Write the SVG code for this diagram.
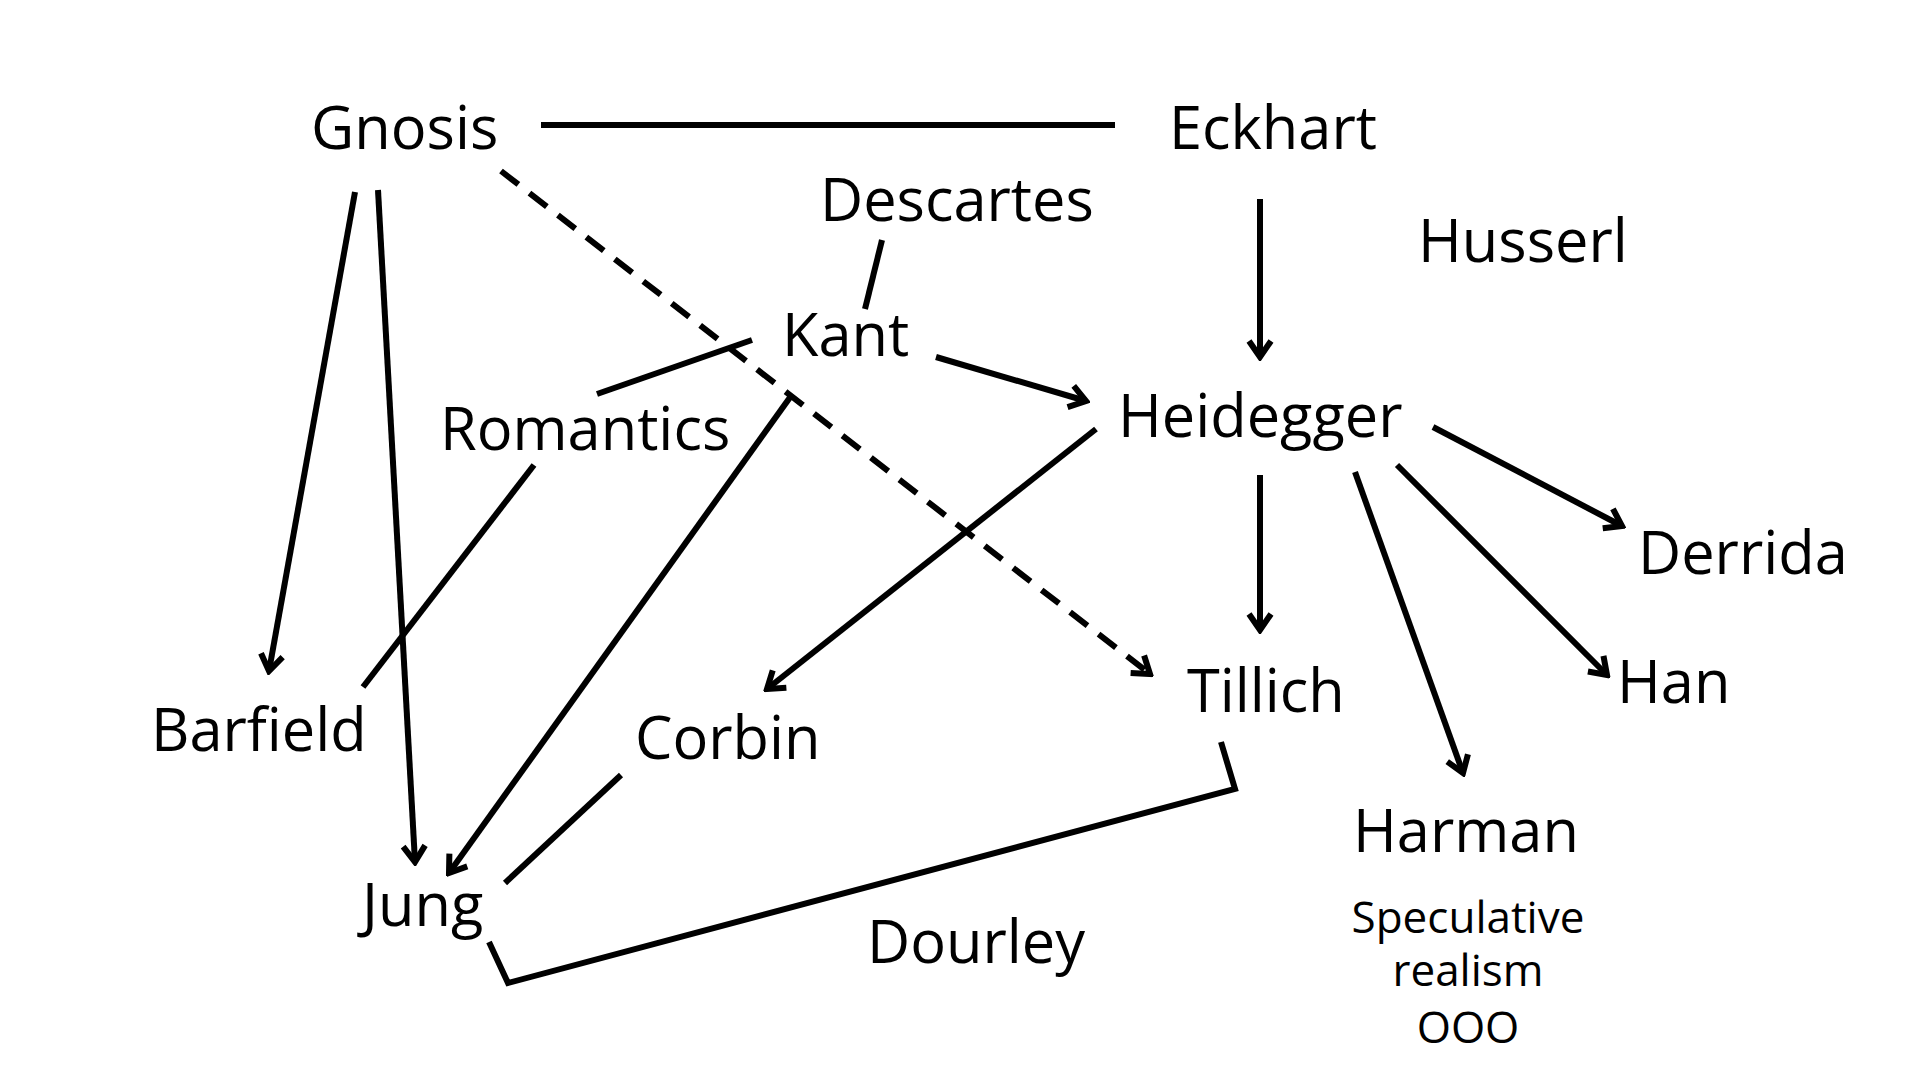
<svg xmlns="http://www.w3.org/2000/svg" width="1920" height="1080" viewBox="0 0 1920 1080">
<style>
text{font-family:"Open Sans","Noto Sans",sans-serif;fill:#000;font-size:59.5px}
.s{font-size:44px;text-anchor:middle}
line,polyline{stroke:#000;stroke-width:6;fill:none}
.a{marker-end:url(#ar)}
.d{stroke-dasharray:22 14}
</style>
<defs><marker id="ar" markerUnits="userSpaceOnUse" viewBox="-20 -14 24 28" refX="0" refY="0" markerWidth="24" markerHeight="28" orient="auto"><path d="M-16,-11 L0,0 L-16,11" fill="none" stroke="#000" stroke-width="6"/></marker></defs>
<rect width="1920" height="1080" fill="#fff"/>
<g id="connectors">
<line x1="541" y1="125" x2="1115" y2="125"/>
<line class="a" x1="355" y1="192" x2="269" y2="671"/>
<line class="a" x1="378" y1="190" x2="415" y2="862"/>
<line class="a d" x1="501" y1="171" x2="1150" y2="674"/>
<line x1="882" y1="240" x2="865" y2="309"/>
<line x1="597" y1="394" x2="752" y2="340"/>
<line class="a" x1="936" y1="357" x2="1086" y2="401"/>
<line class="a" x1="791" y1="396" x2="449" y2="873"/>
<line x1="534" y1="465" x2="363" y2="687"/>
<line class="a" x1="1260" y1="199" x2="1260" y2="357"/>
<line class="a" x1="1096" y1="429" x2="767" y2="689"/>
<line class="a" x1="1260" y1="475" x2="1260" y2="630"/>
<line class="a" x1="1355" y1="472" x2="1463" y2="773"/>
<line class="a" x1="1397" y1="465" x2="1607" y2="675"/>
<line class="a" x1="1433" y1="427" x2="1622" y2="526"/>
<line x1="621" y1="775" x2="505" y2="883"/>
<polyline points="489,942 508,983 1235,789 1221,742"/>
</g>
<g id="gnosis"><text x="311" y="149">Gnosis</text></g>
<g id="eckhart"><text x="1169" y="149">Eckhart</text></g>
<g id="descartes"><text x="820" y="221">Descartes</text></g>
<g id="husserl"><text x="1418" y="262">Husserl</text></g>
<g id="kant"><text x="782" y="356">Kant</text></g>
<g id="romantics"><text x="440" y="450">Romantics</text></g>
<g id="heidegger"><text x="1118" y="437">Heidegger</text></g>
<g id="derrida"><text x="1638" y="574">Derrida</text></g>
<g id="barfield"><text x="151" y="751">Barfield</text></g>
<g id="corbin"><text x="635" y="759">Corbin</text></g>
<g id="tillich"><text x="1187" y="712">Tillich</text></g>
<g id="han"><text x="1617" y="703">Han</text></g>
<g id="harman"><text x="1353" y="852">Harman</text>
<text class="s" x="1468" y="933">Speculative</text><text class="s" x="1468" y="986">realism</text><text class="s" x="1468" y="1043">OOO</text></g>
<g id="jung"><text x="362" y="926">Jung</text></g>
<g id="dourley"><text x="867" y="963">Dourley</text></g>
</svg>
